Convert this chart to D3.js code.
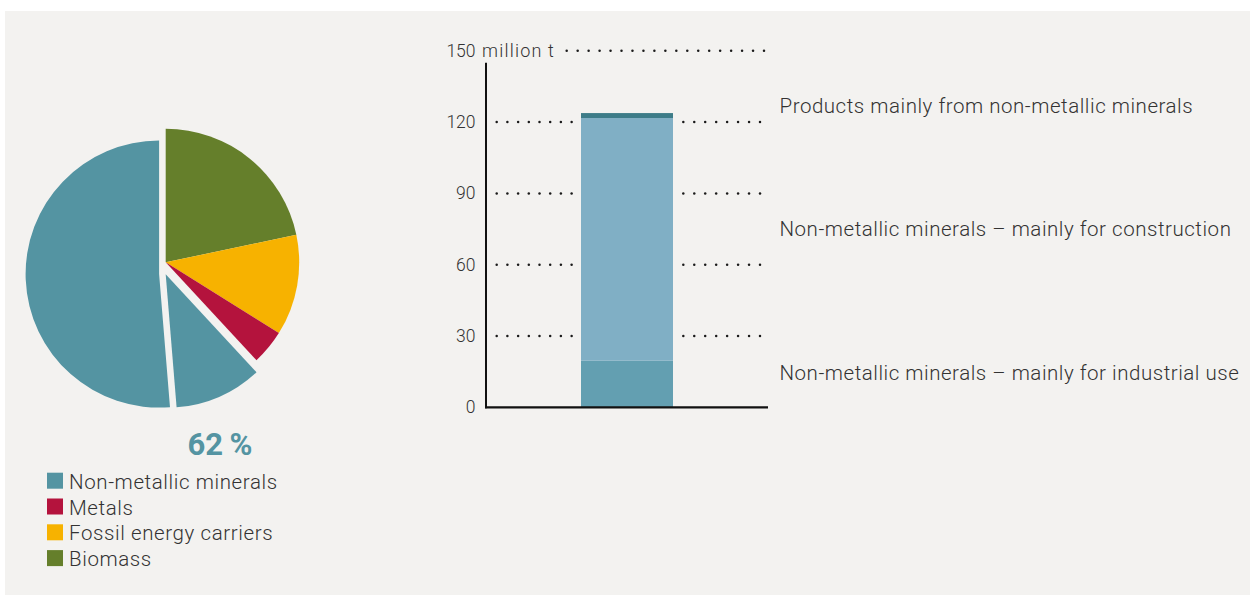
<!DOCTYPE html>
<html>
<head>
<meta charset="utf-8">
<script src="https://cdn.jsdelivr.net/npm/d3@7/dist/d3.min.js"></script>
<style>
  html, body { margin: 0; padding: 0; background: #ffffff; }
  svg { display: block; }
  text { font-family: Roboto, "Noto Sans", sans-serif; fill: #333333; }
</style>
</head>
<body>
<svg id="chart" width="1250" height="595"></svg>
<script>
// Raw material consumption shares (pie), clockwise from 12 o'clock
const pieCategories = ["Biomass", "Fossil energy carriers", "Metals", "Non-metallic minerals", "Non-metallic minerals"];
const pieValues = [21.7, 12.2, 4.2, 10.6, 51.3];
const pieTotalLabel = "62\u2009%";

// Legend entries
const legendCategories = ["Non-metallic minerals", "Metals", "Fossil energy carriers", "Biomass"];

// Stacked bar: non-metallic minerals, million t
const barSegments = ["Non-metallic minerals \u2013 mainly for industrial use",
                     "Non-metallic minerals \u2013 mainly for construction",
                     "Products mainly from non-metallic minerals"];
const barValues = [19.6, 102.1, 2.1];
const yTicks = [0, 30, 60, 90, 120, 150];
const yUnit = "million t";

const colorOf = {
  "Non-metallic minerals": "#5494a2",
  "Metals": "#b4133d",
  "Fossil energy carriers": "#f7b200",
  "Biomass": "#657f2b"
};
const barColors = ["#639fb1", "#80afc5", "#3d7c88"];

const svg = d3.select("#chart");

// panel background
svg.append("rect").attr("x", 5).attr("y", 11).attr("width", 1245).attr("height", 584).attr("fill", "#f3f2f0");

// ---------- Pie ----------
const pieCx = 165.7, pieCy = 262.3, radius = 133.5;
// per-slice shift (the two non-metallic slices are pulled out)
const sliceShift = [[0, 0], [0, 0], [0, 0], [0, 12], [-6.6, 11.8]];

const pie = d3.pie().sort(null).startAngle(0).endAngle(2 * Math.PI);
const arc = d3.arc().innerRadius(0).outerRadius(radius);
const arcs = pie(pieValues);

svg.append("g")
  .attr("transform", `translate(${pieCx},${pieCy})`)
  .selectAll("path")
  .data(arcs)
  .join("path")
  .attr("transform", (d, i) => `translate(${sliceShift[i][0]},${sliceShift[i][1]})`)
  .attr("d", arc)
  .attr("fill", (d, i) => colorOf[pieCategories[i]]);

svg.append("text")
  .attr("x", 220).attr("y", 455)
  .attr("text-anchor", "middle")
  .style("font-size", "31px").style("font-weight", 700)
  .style("fill", "#5494a2")
  .text(pieTotalLabel);

// legend
const legend = svg.append("g").attr("transform", "translate(47,472.7)");
const rows = legend.selectAll("g").data(legendCategories).join("g")
  .attr("transform", (d, i) => `translate(0,${i * 25.8})`);
rows.append("rect").attr("width", 16).attr("height", 16).attr("fill", d => colorOf[d]);
rows.append("text").attr("x", 22).attr("y", 16)
  .style("font-size", "20.5px").style("font-weight", 300)
  .style("letter-spacing", "0.6px")
  .text(d => d);

// ---------- Stacked bar ----------
const y = d3.scaleLinear().domain([0, 150]).range([407.3, 50.8]);
const x = d3.scaleBand().domain(["total"]).range([486, 768]).paddingInner(0).paddingOuter(1.0326);

// dotted guide lines
const dotR = 1.25;
function dotsBetween(x0, x1, n) {
  const step = (x1 - x0) / (n - 1);
  return d3.range(n).map(i => x0 + i * step);
}
const guides = svg.append("g").attr("fill", "#1a1a1a");
yTicks.filter(t => t > 0 && t < 150).forEach(t => {
  const xs = dotsBetween(496.7, 571.6, 8).concat(dotsBetween(683.3, 760, 8));
  guides.selectAll(null).data(xs).join("circle")
    .attr("cx", d => d).attr("cy", y(t)).attr("r", dotR);
});
guides.selectAll(null).data(dotsBetween(566.7, 764, 19)).join("circle")
  .attr("cx", d => d).attr("cy", y(150)).attr("r", dotR);

// stacked segments
let acc = 0;
const stacked = barValues.map((v, i) => { const s = { y0: acc, y1: acc + v, i }; acc += v; return s; });
svg.append("g").selectAll("rect").data(stacked).join("rect")
  .attr("x", x("total"))
  .attr("width", x.bandwidth())
  .attr("y", d => y(d.y1))
  .attr("height", d => y(d.y0) - y(d.y1))
  .attr("fill", d => barColors[d.i]);

// axes
svg.append("line").attr("x1", 486).attr("x2", 486).attr("y1", y(145)).attr("y2", y(0) + 1)
  .attr("stroke", "#111").attr("stroke-width", 2);
svg.append("line").attr("x1", 485).attr("x2", 768).attr("y1", y(0)).attr("y2", y(0))
  .attr("stroke", "#111").attr("stroke-width", 2.2);

// tick labels
svg.append("g").selectAll("text").data(yTicks).join("text")
  .attr("x", 475.5).attr("y", d => y(d) + 5.8)
  .attr("text-anchor", "end")
  .style("font-size", "17.5px").style("font-weight", 300)
  .text(d => d);
svg.append("text").attr("x", 482).attr("y", y(150) + 5.8)
  .style("font-size", "18px").style("font-weight", 300)
  .style("letter-spacing", "1.2px")
  .text(yUnit);

// segment labels
const labelBaselines = [380, 236, 113];
svg.append("g").selectAll("text").data(barSegments).join("text")
  .attr("x", 779.5).attr("y", (d, i) => labelBaselines[i])
  .style("font-size", "20.5px").style("font-weight", 300)
  .style("letter-spacing", "0.53px")
  .text(d => d);
</script>
</body>
</html>
